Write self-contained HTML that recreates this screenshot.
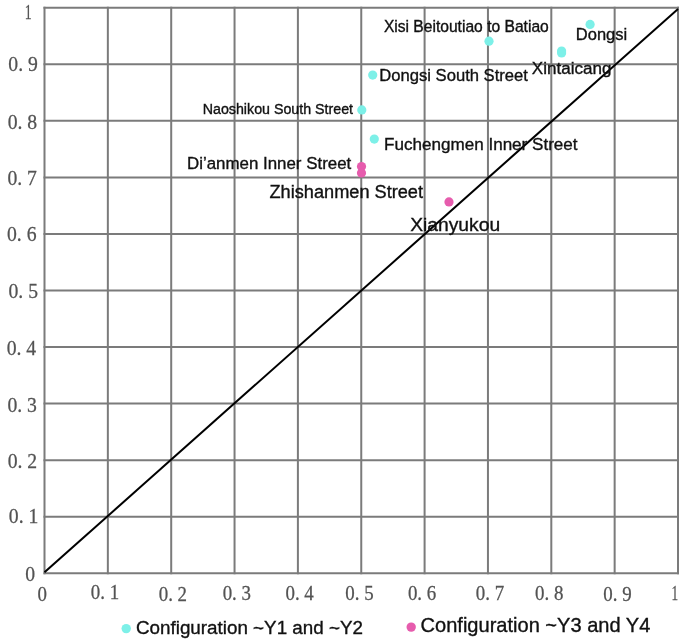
<!DOCTYPE html>
<html><head><meta charset="utf-8"><style>
html,body{margin:0;padding:0;background:#fff;}
body{width:685px;height:644px;overflow:hidden;}
svg{display:block;}
#w{width:685px;height:644px;will-change:transform;}
.tk{font-family:"Liberation Serif",serif;fill:#535353;stroke:#535353;stroke-width:0.25px;}
.lb{font-family:"Liberation Sans",sans-serif;fill:#111111;stroke:#111111;stroke-width:0.35px;}
</style></head><body>
<div id="w"><svg width="685" height="644" viewBox="0 0 685 644">
<rect width="685" height="644" fill="#fff"/>
<line x1="44.50" y1="6.70" x2="44.50" y2="574.30" stroke="#7b7b7b" stroke-width="2.0"/>
<line x1="107.85" y1="6.70" x2="107.85" y2="574.30" stroke="#7b7b7b" stroke-width="2.0"/>
<line x1="171.20" y1="6.70" x2="171.20" y2="574.30" stroke="#7b7b7b" stroke-width="2.0"/>
<line x1="234.55" y1="6.70" x2="234.55" y2="574.30" stroke="#7b7b7b" stroke-width="2.0"/>
<line x1="297.90" y1="6.70" x2="297.90" y2="574.30" stroke="#7b7b7b" stroke-width="2.0"/>
<line x1="361.25" y1="6.70" x2="361.25" y2="574.30" stroke="#7b7b7b" stroke-width="2.0"/>
<line x1="424.60" y1="6.70" x2="424.60" y2="574.30" stroke="#7b7b7b" stroke-width="2.0"/>
<line x1="487.95" y1="6.70" x2="487.95" y2="574.30" stroke="#7b7b7b" stroke-width="2.0"/>
<line x1="551.30" y1="6.70" x2="551.30" y2="574.30" stroke="#7b7b7b" stroke-width="2.0"/>
<line x1="614.65" y1="6.70" x2="614.65" y2="574.30" stroke="#7b7b7b" stroke-width="2.0"/>
<line x1="678.00" y1="6.70" x2="678.00" y2="574.30" stroke="#7b7b7b" stroke-width="2.0"/>
<line x1="43.50" y1="573.30" x2="679.00" y2="573.30" stroke="#7b7b7b" stroke-width="2.0"/>
<line x1="43.50" y1="516.74" x2="679.00" y2="516.74" stroke="#7b7b7b" stroke-width="2.0"/>
<line x1="43.50" y1="460.18" x2="679.00" y2="460.18" stroke="#7b7b7b" stroke-width="2.0"/>
<line x1="43.50" y1="403.62" x2="679.00" y2="403.62" stroke="#7b7b7b" stroke-width="2.0"/>
<line x1="43.50" y1="347.06" x2="679.00" y2="347.06" stroke="#7b7b7b" stroke-width="2.0"/>
<line x1="43.50" y1="290.50" x2="679.00" y2="290.50" stroke="#7b7b7b" stroke-width="2.0"/>
<line x1="43.50" y1="233.94" x2="679.00" y2="233.94" stroke="#7b7b7b" stroke-width="2.0"/>
<line x1="43.50" y1="177.38" x2="679.00" y2="177.38" stroke="#7b7b7b" stroke-width="2.0"/>
<line x1="43.50" y1="120.82" x2="679.00" y2="120.82" stroke="#7b7b7b" stroke-width="2.0"/>
<line x1="43.50" y1="64.26" x2="679.00" y2="64.26" stroke="#7b7b7b" stroke-width="2.0"/>
<line x1="43.50" y1="7.70" x2="679.00" y2="7.70" stroke="#7b7b7b" stroke-width="2.0"/>
<line x1="44.5" y1="572.3" x2="678.0" y2="8.9" stroke="#000" stroke-width="2.0"/>
<text transform="translate(24.82 18.59) scale(0.7 1.07)" font-size="19.70" class="tk">1</text>
<text transform="translate(8.30 71.07) scale(1 1.07)" font-size="19.70" class="tk">0. 9</text>
<text transform="translate(7.68 128.84) scale(1 1.07)" font-size="19.70" class="tk">0. 8</text>
<text transform="translate(7.38 184.87) scale(1 1.07)" font-size="19.70" class="tk">0. 7</text>
<text transform="translate(7.00 240.93) scale(1 1.07)" font-size="19.70" class="tk">0. 6</text>
<text transform="translate(8.50 298.33) scale(1 1.07)" font-size="19.70" class="tk">0. 5</text>
<text transform="translate(6.66 355.10) scale(1 1.07)" font-size="19.70" class="tk">0. 4</text>
<text transform="translate(7.43 411.51) scale(1 1.07)" font-size="19.70" class="tk">0. 3</text>
<text transform="translate(7.67 468.49) scale(1 1.07)" font-size="19.70" class="tk">0. 2</text>
<text transform="translate(8.83 522.93) scale(1 1.07)" font-size="19.70" class="tk">0. 1</text>
<text transform="translate(25.17 581.26) scale(1 1.07)" font-size="19.70" class="tk">0</text>
<text transform="translate(37.50 601.07) scale(1 1.07)" font-size="18.90" class="tk">0</text>
<text transform="translate(90.86 599.02) scale(1 1.07)" font-size="18.90" class="tk">0. 1</text>
<text transform="translate(158.68 600.62) scale(1 1.07)" font-size="18.90" class="tk">0. 2</text>
<text transform="translate(222.65 600.01) scale(1 1.07)" font-size="18.90" class="tk">0. 3</text>
<text transform="translate(285.47 599.55) scale(1 1.07)" font-size="18.90" class="tk">0. 4</text>
<text transform="translate(345.24 600.41) scale(1 1.07)" font-size="18.90" class="tk">0. 5</text>
<text transform="translate(407.92 599.67) scale(1 1.07)" font-size="18.90" class="tk">0. 6</text>
<text transform="translate(475.74 600.03) scale(1 1.07)" font-size="18.90" class="tk">0. 7</text>
<text transform="translate(535.11 599.65) scale(1 1.07)" font-size="18.90" class="tk">0. 8</text>
<text transform="translate(603.36 600.50) scale(1 1.07)" font-size="18.90" class="tk">0. 9</text>
<text transform="translate(671.60 600.22) scale(0.7 1.07)" font-size="18.90" class="tk">1</text>
<circle cx="489" cy="41.2" r="4.6" fill="#7df0e8"/>
<circle cx="590.1" cy="24.4" r="4.6" fill="#7df0e8"/>
<circle cx="561.6" cy="51" r="4.6" fill="#7df0e8"/>
<circle cx="561.6" cy="53" r="4.6" fill="#7df0e8"/>
<circle cx="372.7" cy="75.1" r="4.6" fill="#7df0e8"/>
<circle cx="361.8" cy="109.9" r="4.6" fill="#7df0e8"/>
<circle cx="374.3" cy="139.1" r="4.6" fill="#7df0e8"/>
<circle cx="361.5" cy="166.5" r="4.6" fill="#e65cad"/>
<circle cx="361.5" cy="173" r="4.6" fill="#e65cad"/>
<circle cx="449" cy="201.9" r="4.6" fill="#e65cad"/>
<circle cx="126.2" cy="628.6" r="4.7" fill="#7df0e8"/>
<circle cx="411.2" cy="627.1" r="4.7" fill="#e65cad"/>
<text x="383.88" y="31.70" font-size="15.62" class="lb">Xisi Beitoutiao to Batiao</text>
<text x="575.83" y="40.20" font-size="16.49" class="lb">Dongsi</text>
<text x="531.86" y="73.70" font-size="17.06" class="lb">Xintaicang</text>
<text x="379.29" y="81.30" font-size="16.62" class="lb">Dongsi South Street</text>
<text x="202.71" y="113.90" font-size="14.24" class="lb">Naoshikou South Street</text>
<text x="384.07" y="149.80" font-size="17.07" class="lb">Fuchengmen Inner Street</text>
<text x="186.96" y="169.10" font-size="16.90" class="lb">Di’anmen Inner Street</text>
<text x="269.50" y="197.50" font-size="18.18" class="lb">Zhishanmen Street</text>
<text x="410.17" y="230.50" font-size="19.27" class="lb">Xianyukou</text>
<text x="135.97" y="634.10" font-size="18.82" class="lb">Configuration ~Y1 and ~Y2</text>
<text x="420.54" y="632.10" font-size="20.06" class="lb">Configuration ~Y3 and Y4</text>
</svg></div>
</body></html>
